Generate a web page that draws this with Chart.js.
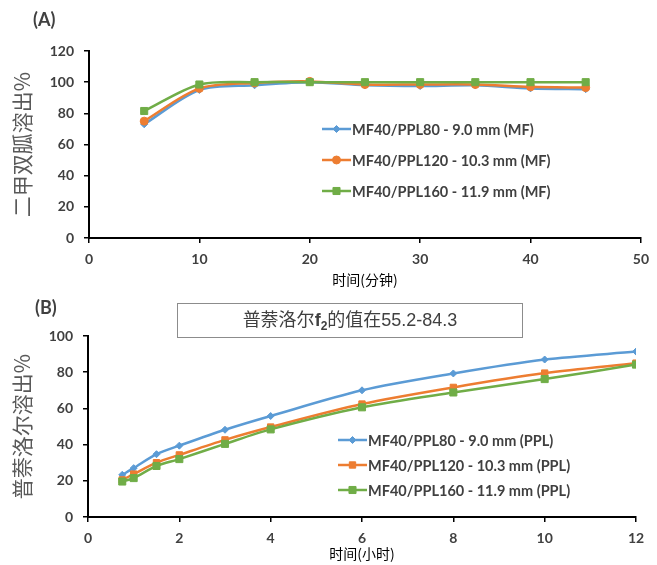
<!DOCTYPE html>
<html>
<head>
<meta charset="utf-8">
<script src="https://cdn.jsdelivr.net/npm/chart.js@4/dist/chart.umd.min.js"></script>
<style>
  html, body { margin: 0; padding: 0; background: #fff; }
  body { width: 657px; height: 565px; position: relative; overflow: hidden; }
  .wrap { position: absolute; left: 0; width: 657px; }
  .panel-label { position: absolute; font: bold 18px Lato, "Liberation Sans", sans-serif; color: #404040; }
  #note { position: absolute; left: 177px; top: 303px; width: 344px; height: 33px; border: 1px solid #8c8c8c;
          background: #fff; font: 18px "Liberation Sans", "Noto Sans CJK SC", sans-serif; color: #404040;
          text-align: center; line-height: 33px; }
  #note b { font-weight: bold; }
  #note sub { font-size: 12px; vertical-align: -4px; line-height: 0; font-weight: bold; }
</style>
</head>
<body>
<div class="wrap" style="top:0;height:290px"><canvas id="cA" width="657" height="290"></canvas></div>
<div class="wrap" style="top:285px;height:280px"><canvas id="cB" width="657" height="280"></canvas></div>
<div class="panel-label" style="left:33px;top:8px">(A)</div>
<div class="panel-label" style="left:35px;top:296px">(B)</div>
<div id="note"><span>普萘洛尔<b>f</b><sub>2</sub>的值在55.2-84.3</span></div>
<script>
// ---------- Data: panel A (metformin, minutes) ----------
const timeA = [5, 10, 15, 20, 25, 30, 35, 40, 45];
const mfPPL80  = [73, 95, 98, 100, 98, 97.5, 98, 96, 95.5];
const mfPPL120 = [75, 96, 99.5, 100.5, 98.5, 98.5, 98.5, 97, 96.5];
const mfPPL160 = [81.5, 98.5, 100, 100, 100, 100, 100, 100, 100];
const labelsA = ["MF40/PPL80 - 9.0 mm (MF)", "MF40/PPL120 - 10.3 mm (MF)", "MF40/PPL160 - 11.9 mm (MF)"];

// ---------- Data: panel B (propranolol, hours) ----------
const timeB = [0.75, 1, 1.5, 2, 3, 4, 6, 8, 10, 12];
const pplPPL80  = [23.3, 27, 34.7, 39.4, 48.2, 55.8, 70, 79.3, 87, 91.4];
const pplPPL120 = [20.5, 23.7, 30, 34.3, 42.6, 49.7, 62.4, 71.6, 79.5, 85];
const pplPPL160 = [19.6, 21.5, 28.2, 32, 40.4, 48.4, 60.6, 68.8, 76.2, 84.2];
const labelsB = ["MF40/PPL80 - 9.0 mm (PPL)", "MF40/PPL120 - 10.3 mm (PPL)", "MF40/PPL160 - 11.9 mm (PPL)"];

const BLUE = '#5B9BD5', ORANGE = '#ED7D31', GREEN = '#70AD47';
const TICK_FONT = { family: 'Lato, "Liberation Sans", sans-serif', size: 14, weight: 'bold' };
const TICK_COLOR = '#404040';

function pts(xs, ys) { return xs.map((x, i) => ({ x: x, y: ys[i] })); }

function ds(label, xs, ys, color, style, radius, order) {
  return {
    label: label, data: pts(xs, ys), borderColor: color, backgroundColor: color,
    borderWidth: 2.5, pointStyle: style, pointRadius: radius, pointHoverRadius: radius,
    pointBorderWidth: 1, pointBackgroundColor: color, pointBorderColor: color,
    tension: 0.3, order: order
  };
}

function drawMarker(ctx, style, r, x, y, color) {
  ctx.save();
  ctx.fillStyle = color; ctx.strokeStyle = color; ctx.lineWidth = 1;
  ctx.beginPath();
  if (style === 'circle') {
    ctx.arc(x, y, r, 0, Math.PI * 2);
  } else if (style === 'rect') {
    const s = Math.SQRT1_2 * r;
    ctx.rect(x - s, y - s, 2 * s, 2 * s);
  } else if (style === 'rectRot') {
    ctx.moveTo(x, y - r); ctx.lineTo(x + r, y); ctx.lineTo(x, y + r); ctx.lineTo(x - r, y); ctx.closePath();
  }
  ctx.fill(); ctx.stroke();
  ctx.restore();
}

const legendPlugin = {
  id: 'customLegend',
  afterDraw(chart, args, opts) {
    const ctx = chart.ctx;
    chart.data.datasets.forEach((d, i) => {
      const y = opts.ys[i];
      ctx.save();
      ctx.strokeStyle = d.borderColor; ctx.lineWidth = 2.5;
      ctx.beginPath(); ctx.moveTo(opts.x, y); ctx.lineTo(opts.x + opts.len, y); ctx.stroke();
      ctx.restore();
      drawMarker(ctx, d.pointStyle, d.pointRadius, opts.x + opts.len / 2, y, d.borderColor);
      ctx.save();
      ctx.fillStyle = TICK_COLOR;
      ctx.font = 'bold 14.5px Lato, "Liberation Sans", sans-serif';
      ctx.textBaseline = 'middle'; ctx.textAlign = 'left';
      ctx.fillText(d.label, opts.x + opts.len + 1, y + 1);
      ctx.restore();
    });
  }
};

function axisCommon(min, max, step, tickPad) {
  return {
    type: 'linear', min: min, max: max,
    ticks: { stepSize: step, font: TICK_FONT, color: TICK_COLOR, padding: tickPad },
    grid: { display: true, drawOnChartArea: false, drawTicks: true, tickLength: 5, color: '#000', lineWidth: 1.5 },
    border: { display: true, color: '#000', width: 2 }
  };
}

function makeChart(id, datasets, cfg) {
  const xAxis = axisCommon(cfg.xmin, cfg.xmax, cfg.xstep, 8);
  xAxis.title = { display: true, text: cfg.xtitle, color: '#000',
    font: { family: '"Noto Sans CJK SC", sans-serif', size: 14 }, padding: { top: 0, bottom: cfg.xTitlePadB } };
  xAxis.afterFit = s => { s.height = cfg.xHeight; };
  const yAxis = axisCommon(cfg.ymin, cfg.ymax, cfg.ystep, 10);
  yAxis.title = { display: true, text: cfg.ytitle, color: '#595959',
    font: { family: '"Noto Sans CJK SC", sans-serif', size: 21 }, padding: { top: 9, bottom: 0 } };
  yAxis.afterFit = s => { s.width = cfg.yWidth; };
  return new Chart(document.getElementById(id), {
    type: 'line',
    data: { datasets: datasets },
    options: {
      responsive: false, animation: false,
      layout: { padding: { top: cfg.padTop, right: cfg.padRight, left: 0, bottom: 0 } },
      plugins: { legend: { display: false }, tooltip: { enabled: false },
                 customLegend: cfg.legend },
      scales: { x: xAxis, y: yAxis }
    },
    plugins: [legendPlugin]
  });
}

makeChart('cA', [
  ds(labelsA[0], timeA, mfPPL80, BLUE, 'rectRot', 3.5, 2),
  ds(labelsA[1], timeA, mfPPL120, ORANGE, 'circle', 4, 1),
  ds(labelsA[2], timeA, mfPPL160, GREEN, 'rect', 5, 0)
], {
  xmin: 0, xmax: 50, xstep: 10, ymin: 0, ymax: 120, ystep: 20,
  xtitle: '时间(分钟)', ytitle: '二甲双胍溶出%',
  padTop: 51, padRight: 15, yWidth: 89, xHeight: 52, xTitlePadB: 2,
  legend: { x: 322, len: 29, ys: [129, 160, 191] }
});

makeChart('cB', [
  ds(labelsB[0], timeB, pplPPL80, BLUE, 'rectRot', 3.5, 2),
  ds(labelsB[1], timeB, pplPPL120, ORANGE, 'rect', 4.5, 1),
  ds(labelsB[2], timeB, pplPPL160, GREEN, 'rect', 5, 0)
], {
  xmin: 0, xmax: 12, xstep: 2, ymin: 0, ymax: 100, ystep: 20,
  xtitle: '时间(小时)', ytitle: '普萘洛尔溶出%',
  padTop: 51, padRight: 21, yWidth: 88, xHeight: 48, xTitlePadB: 3,
  legend: { x: 338, len: 29, ys: [155, 180, 205] }
});
</script>
</body>
</html>
